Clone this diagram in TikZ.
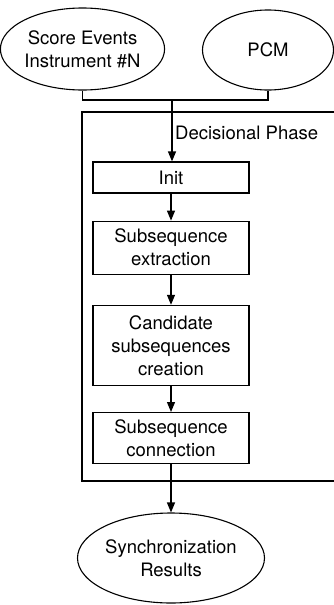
\documentclass[tikz,border=0pt]{standalone}
\usepackage{fontspec}
\setmainfont{TeX Gyre Heros}
\usetikzlibrary{positioning,arrows.meta,shapes.geometric}

\begin{document}
\begin{tikzpicture}[
  x=1pt, y=-1pt,
  node distance=28pt,
  every node/.style={font=\fontsize{18.5}{23}\selectfont},
  box/.style={draw, line width=1.2pt, minimum width=156pt, align=center, inner sep=4pt},
  oval/.style={draw, ellipse, line width=1.1pt, align=center, inner sep=0pt},
  arr/.style={-{Triangle[length=10pt,width=8pt]}, line width=1.2pt}
]
\useasboundingbox (0,0) rectangle (333,605);

\node[oval, minimum width=151pt, minimum height=82pt] (score) at (82.5,49) {Score Events\\Instrument \#N};
\node[oval, minimum width=131pt, minimum height=80pt] (pcm) at (268,50) {PCM};

\node[box, minimum height=31pt] (init) at (171,177.5) {Init};
\node[box, minimum height=53pt, below=27pt of init] (extract) {Subsequence\\extraction};
\node[box, minimum height=80pt, below=30pt of extract] (cand) {Candidate\\subsequences\\creation};
\node[box, minimum height=51pt, below=26pt of cand] (connect) {Subsequence\\connection};

\node[oval, minimum width=187pt, minimum height=90pt] (sync) at (171,558) {Synchronization\\Results};

% decisional phase frame
\draw[line width=1.2pt] (345,112) -| (82,481) -- (345,481);
\node[anchor=west, inner sep=0pt] (phase) at (175,133) {Decisional Phase};

\coordinate (join) at (172,100);
\draw[line width=1.2pt] (score.south) |- (join) -| (pcm.south);
\draw[arr] (join) -- (join |- init.north);
\draw[arr] (init) -- (extract);
\draw[arr] (extract) -- (cand);
\draw[arr] (cand) -- (connect);
\draw[arr] (connect) -- (sync);
\end{tikzpicture}
\end{document}
